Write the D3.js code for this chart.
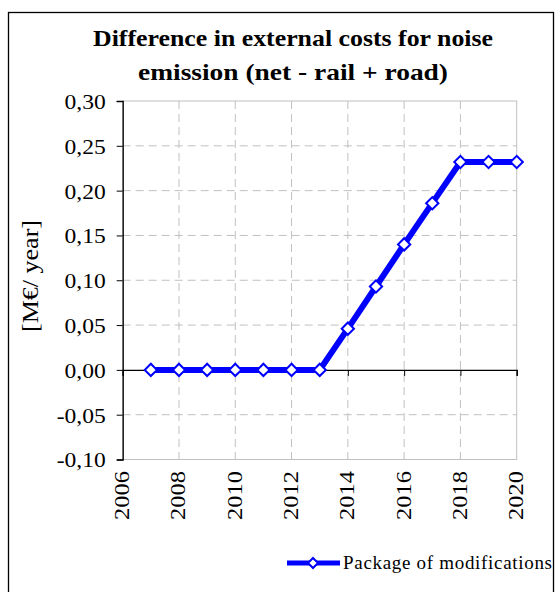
<!DOCTYPE html>
<html><head><meta charset="utf-8">
<script src="https://cdn.jsdelivr.net/npm/d3@7"></script>
<style>body{margin:0;background:#fff}svg{display:block}</style>
</head><body>
<script>
const years = [2007,2008,2009,2010,2011,2012,2013,2014,2015,2016,2017,2018,2019,2020];
const values = [0,0,0,0,0,0,0,0.046,0.093,0.140,0.186,0.232,0.232,0.232];
const xTicks = [2006,2008,2010,2012,2014,2016,2018,2020];
const yTicks = [-0.10,-0.05,0,0.05,0.10,0.15,0.20,0.25,0.30];
const titleLines = ["Difference in external costs for noise","emission (net - rail + road)"];
const yLabel = "[M€/ year]";
const seriesName = "Package of modifications";

const FONT="Liberation Serif";
const W=555,H=592;
const svg=d3.select("body").append("svg").attr("width",W).attr("height",H).attr("font-family",FONT);
svg.append("rect").attr("x",8.5).attr("y",12.5).attr("width",545).attr("height",590).attr("fill","#fff").attr("stroke","#000").attr("stroke-width",1.3);

const x=d3.scaleLinear().domain([2006,2020]).range([122.7,516.7]);
const y=d3.scaleLinear().domain([-0.10,0.30]).range([459.5,101]);

function fit(sel,len,mode){sel.attr("textLength",len).attr("lengthAdjust",mode||"spacingAndGlyphs");return sel;}

// title
const tw=[400,310];
titleLines.forEach((t,i)=>{
  fit(svg.append("text").attr("x",293).attr("y",46+i*34).attr("text-anchor","middle").attr("font-family",FONT)
    .attr("font-weight","bold").attr("font-size",24).text(t),tw[i]);
});

const g=svg.append("g");
g.selectAll(".hg").data(yTicks.filter(d=>d!==0&&d!==-0.10&&d!==0.30)).join("line")
 .attr("x1",x(2006)).attr("x2",x(2020)).attr("y1",d=>y(d)).attr("y2",d=>y(d))
 .attr("stroke","#c0c0c0").attr("stroke-dasharray","8,5").attr("stroke-width",1);
g.selectAll(".vg").data(xTicks.filter(d=>d!==2006&&d!==2020)).join("line")
 .attr("x1",d=>x(d)).attr("x2",d=>x(d)).attr("y1",y(0.30)).attr("y2",y(-0.10))
 .attr("stroke","#c0c0c0").attr("stroke-dasharray","8,5").attr("stroke-width",1);
g.append("rect").attr("x",x(2006)).attr("y",y(0.30)).attr("width",x(2020)-x(2006)).attr("height",y(-0.10)-y(0.30))
 .attr("fill","none").attr("stroke","#c0c0c0").attr("stroke-width",1);

// y axis
const ya=svg.append("g").attr("transform",`translate(${x(2006)},0)`)
 .call(d3.axisLeft(y).tickValues(yTicks).tickSize(6).tickFormat(d=>d3.format(".2f")(d).replace(".",",").replace("−","-")));
ya.attr("font-family",FONT);
ya.select(".domain").attr("stroke","#000").attr("stroke-width",1.3);
ya.selectAll(".tick line").attr("stroke","#000");
ya.selectAll(".tick text").attr("font-size",22).attr("fill","#000").attr("x",-17).attr("dy","0.34em")
  .each(function(){const n=this.getComputedTextLength(); d3.select(this).attr("textLength",n*1.07).attr("lengthAdjust","spacingAndGlyphs");});

// x axis at zero
const xa=svg.append("g").attr("transform",`translate(0,${y(0)})`)
 .call(d3.axisBottom(x).tickValues(xTicks).tickSize(6).tickFormat(d3.format("d")));
xa.select(".domain").attr("stroke","#000").attr("stroke-width",1.3);
xa.selectAll(".tick line").attr("stroke","#000");
xa.selectAll(".tick text").remove();
svg.selectAll(".xl").data(xTicks).join("text")
 .attr("transform",d=>`translate(${x(d)+6.5},471) rotate(-90)`)
 .attr("text-anchor","end").attr("font-size",21).attr("font-family",FONT).text(d=>d)
 .each(function(){d3.select(this).attr("textLength",49).attr("lengthAdjust","spacingAndGlyphs");});

// y label
fit(svg.append("text").attr("transform","translate(38,276) rotate(-90)").attr("text-anchor","middle").attr("font-family",FONT)
 .attr("font-size",23).text(yLabel),112);

// line
const line=d3.line().x((d,i)=>x(years[i])).y(d=>y(d));
svg.append("path").datum(values).attr("d",line).attr("fill","none").attr("stroke","#0000ff").attr("stroke-width",6).attr("stroke-linejoin","miter");
svg.selectAll(".pt").data(values).join("path")
 .attr("d",d3.symbol().type(d3.symbolSquare).size(75)).attr("transform",(d,i)=>`translate(${x(years[i])},${y(d)}) rotate(45)`)
 .attr("fill","#fff").attr("stroke","#0000ff").attr("stroke-width",2);

// legend
svg.append("line").attr("x1",287).attr("x2",340).attr("y1",563).attr("y2",563).attr("stroke","#0000ff").attr("stroke-width",5);
svg.append("path").attr("d",d3.symbol().type(d3.symbolSquare).size(50)).attr("transform","translate(313,563) rotate(45)")
 .attr("fill","#fff").attr("stroke","#0000ff").attr("stroke-width",2);
fit(svg.append("text").attr("x",343).attr("y",569).attr("font-size",19).attr("font-family",FONT).text(seriesName),209,"spacing");
</script>
</body></html>
